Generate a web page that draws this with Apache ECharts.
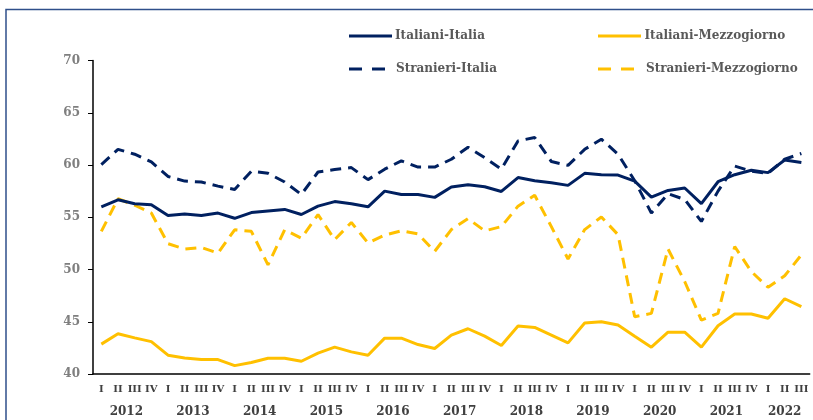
<!DOCTYPE html>
<html>
<head>
<meta charset="utf-8">
<script src="https://cdn.jsdelivr.net/npm/echarts@6/dist/echarts.min.js"></script>
<style>
  html, body { margin: 0; padding: 0; background: #fff; }
  #chart { width: 813px; height: 420px; }
</style>
</head>
<body>
<div id="chart"></div>
<script>
// trimestri 2012 I - 2022 III
const years = ['2012', '2013', '2014', '2015', '2016', '2017', '2018', '2019', '2020', '2021', '2022'];
const quarterNames = ['I', 'II', 'III', 'IV'];
const quarters = [];
years.forEach((y) => {
  quarterNames.forEach((q) => {
    if (!(y === '2022' && q === 'IV')) quarters.push(q);
  });
});

const italianiItalia = [56.0, 56.67, 56.3, 56.2, 55.16, 55.3, 55.16, 55.4, 54.9, 55.45, 55.6,
  55.75, 55.26, 56.06, 56.5, 56.3, 56.0, 57.5, 57.18, 57.18, 56.9,
  57.9, 58.1, 57.92, 57.47, 58.8, 58.5, 58.3, 58.05, 59.2, 59.07, 59.04, 58.45,
  56.92, 57.57, 57.8, 56.3, 58.4, 59.07, 59.5, 59.27, 60.48, 60.23];
const italianiMezzogiorno = [42.86, 43.85, 43.46, 43.1, 41.8, 41.54, 41.38, 41.38, 40.8, 41.1, 41.5,
  41.5, 41.22, 42.0, 42.57, 42.12, 41.8, 43.43, 43.43, 42.82, 42.44,
  43.72, 44.33, 43.62, 42.73, 44.59, 44.46, 43.72, 42.98, 44.88, 45.0, 44.68, 43.62,
  42.57, 44.0, 44.0, 42.57, 44.62, 45.74, 45.74, 45.33, 47.2, 46.44];
const stranieriItalia = [60.04, 61.5, 61.03, 60.3, 58.9, 58.46, 58.37, 57.98, 57.66, 59.4, 59.2,
  58.37, 57.18, 59.33, 59.56, 59.75, 58.6, 59.6, 60.4, 59.8, 59.8,
  60.55, 61.7, 60.7, 59.6, 62.3, 62.63, 60.33, 59.97, 61.5, 62.47, 61.03, 58.5,
  55.4, 57.25, 56.7, 54.6, 57.5, 59.9, 59.4, 59.2, 60.55, 61.1];
const stranieriMezzogiorno = [53.65, 56.77, 56.15, 55.4, 52.47, 51.96, 52.1, 51.57, 53.8, 53.65, 50.45,
  53.8, 53.0, 55.26, 52.86, 54.5, 52.54, 53.3, 53.7, 53.4, 51.73,
  53.82, 54.87, 53.7, 54.1, 56.06, 57.1, 54.1, 51.0, 53.82, 55.03, 53.33, 45.48,
  45.8, 51.96, 48.85, 45.16, 45.8, 52.2, 49.8, 48.3, 49.4, 51.4];

// posizione (in trimestri) del centro di ogni anno sull'asse
const yearCenters = { 2: '2012', 6: '2013', 10: '2014', 14: '2015', 18: '2016', 22: '2017',
  26: '2018', 30: '2019', 34: '2020', 38: '2021', 41.5: '2022' };

const navy = '#002060';
const yellow = '#FFC000';
const font = 'DejaVu Serif';

// icone della legenda: linea piena e linea tratteggiata
const solidIcon = 'path://M0,0H43V3H0Z';
const dashIcon = 'path://M0,0H13V3H0Z M23,0H36V3H23Z';

const myChart = echarts.init(document.getElementById('chart'));

const legendText = { fontFamily: font, fontWeight: 'bold', fontSize: 12, color: '#595959' };

myChart.setOption({
  animation: false,
  graphic: [
    {
      type: 'rect',
      shape: { x: 6, y: 9.5, width: 900, height: 500 },
      style: { fill: 'none', stroke: '#2F4F8A', lineWidth: 1.5 },
      silent: true,
    },
  ],
  grid: { left: 93, right: 3.3, top: 60.5, bottom: 46 },
  legend: [
    {
      data: ['Italiani-Italia'], left: 349, top: 30, padding: 0, icon: solidIcon,
      itemWidth: 43, itemHeight: 3, textStyle: { ...legendText, padding: [0, 0, 0, -2] },
    },
    {
      data: ['Italiani-Mezzogiorno'], left: 598, top: 30, padding: 0, icon: solidIcon,
      itemWidth: 44, itemHeight: 3, textStyle: { ...legendText, padding: [0, 0, 0, -2] },
    },
    {
      data: ['Stranieri-Italia'], left: 349, top: 63, padding: 0, icon: dashIcon,
      itemWidth: 36, itemHeight: 3, textStyle: { ...legendText, padding: [0, 0, 0, 6] },
    },
    {
      data: ['Stranieri-Mezzogiorno'], left: 598, top: 63, padding: 0, icon: dashIcon,
      itemWidth: 36, itemHeight: 3, textStyle: { ...legendText, padding: [0, 0, 0, 7] },
    },
  ],
  xAxis: [
    {
      // trimestri
      type: 'category',
      data: quarters,
      boundaryGap: true,
      axisLine: { lineStyle: { color: '#000', width: 1.5 } },
      axisTick: { interval: 0, length: 23, lineStyle: { color: '#000', width: 1 } },
      axisLabel: {
        interval: 0, margin: 10, fontFamily: font, fontWeight: 'bold', fontSize: 10, color: '#404040',
      },
    },
    {
      // tacche piccole a metà trimestre
      type: 'category',
      data: quarters,
      boundaryGap: true,
      position: 'bottom',
      axisLine: { show: false },
      axisTick: { interval: 0, alignWithLabel: true, length: 4, lineStyle: { color: '#000', width: 1 } },
      axisLabel: { show: false },
    },
    {
      // separatori degli anni
      type: 'category',
      data: quarters,
      boundaryGap: true,
      position: 'bottom',
      axisLine: { show: false },
      axisTick: {
        interval: (index) => index % 4 === 0,
        length: 50,
        lineStyle: { color: '#000', width: 1 },
      },
      axisLabel: { show: false },
    },
    {
      // etichette degli anni
      type: 'value',
      min: 0,
      max: 43,
      interval: 0.5,
      position: 'bottom',
      axisLine: { show: false },
      axisTick: { show: false },
      splitLine: { show: false },
      axisLabel: {
        margin: 32,
        fontFamily: font,
        fontWeight: 'bold',
        fontSize: 12,
        color: '#404040',
        formatter: (v) => yearCenters[v] || '',
      },
    },
  ],
  yAxis: {
    type: 'value',
    min: 40,
    max: 70,
    interval: 5,
    axisLine: { show: true, lineStyle: { color: '#000', width: 1.5 } },
    axisTick: { show: true, length: 5, lineStyle: { color: '#000' } },
    splitLine: { show: false },
    axisLabel: {
      margin: 13, fontFamily: font, fontWeight: 'bold', fontSize: 12, color: '#7F7F7F',
    },
  },
  series: [
    {
      name: 'Italiani-Mezzogiorno',
      type: 'line',
      data: italianiMezzogiorno,
      symbol: 'none',
      color: yellow,
      lineStyle: { width: 3, color: yellow },
    },
    {
      name: 'Stranieri-Mezzogiorno',
      type: 'line',
      data: stranieriMezzogiorno,
      symbol: 'none',
      color: yellow,
      lineStyle: { width: 3, color: yellow, type: [11, 7] },
    },
    {
      name: 'Stranieri-Italia',
      type: 'line',
      data: stranieriItalia,
      symbol: 'none',
      color: navy,
      lineStyle: { width: 3, color: navy, type: [11, 7] },
    },
    {
      name: 'Italiani-Italia',
      type: 'line',
      data: italianiItalia,
      symbol: 'none',
      color: navy,
      lineStyle: { width: 3, color: navy },
    },
  ],
});
</script>
</body>
</html>
